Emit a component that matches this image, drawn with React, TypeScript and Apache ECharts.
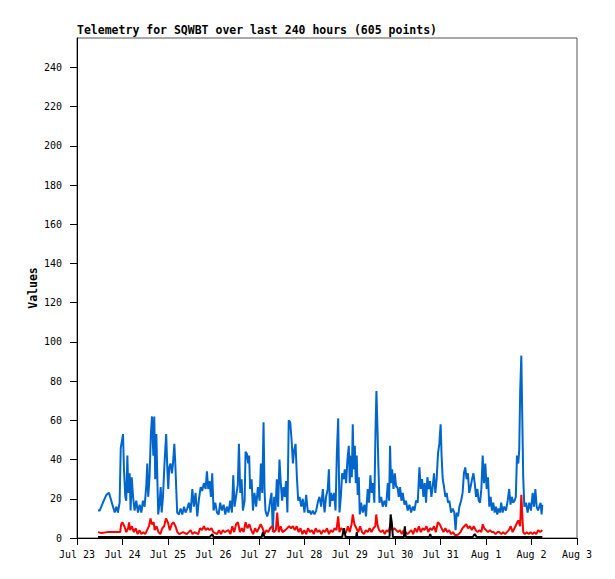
import React, { useEffect, useRef } from "react";
import * as echarts from "echarts";

const chartTitle = "Telemetry for SQWBT over last 240 hours (605 points)";
const yAxisName = "Values";
// x values are hours since Jul 23 00:00
const xTickLabels = ["Jul 23", "Jul 24", "Jul 25", "Jul 26", "Jul 27", "Jul 28", "Jul 29", "Jul 30", "Jul 31", "Aug 1", "Aug 2", "Aug 3"];
const yTickValues = [0, 20, 40, 60, 80, 100, 120, 140, 160, 180, 200, 220, 240];

const blueSeries: [number, number][] = [
  [11.1,14],[12.0,14],[13.7,18],[15.5,22],[16.9,23],[18.1,19],[19.0,16],[19.9,13],[20.8,16],[21.6,13],[22.5,18],[23.1,46],[23.8,50],[24.3,53],[24.8,35],[25.5,21],[26.0,19],[26.6,42],[27.1,23],[27.8,33],[28.3,14],[28.9,31],[29.6,21],[30.4,14],[31.3,19],[32.2,13],[33.1,17],[34.0,13],[34.8,19],[35.7,16],[36.6,27],[37.1,38],[37.6,21],[38.3,31],[39.0,53],[39.6,62],[40.3,42],[40.8,62],[41.3,30],[41.9,53],[42.4,31],[42.9,12],[43.6,18],[44.2,26],[44.7,13],[45.4,21],[46.1,36],[46.6,45],[47.1,53],[47.7,35],[48.2,25],[48.7,36],[49.4,38],[50.1,33],[50.6,37],[51.4,48],[51.9,38],[52.4,25],[52.9,13],[53.8,12],[54.7,15],[55.6,12],[56.5,16],[57.3,13],[58.2,15],[59.1,18],[60.0,13],[60.9,25],[61.7,16],[62.6,23],[63.5,11],[64.4,20],[65.3,26],[66.1,24],[67.0,28],[67.9,25],[68.6,34],[69.3,25],[70.0,29],[70.7,21],[71.4,33],[72.1,14],[73.0,18],[73.9,13],[74.8,12],[75.6,18],[76.5,14],[77.4,17],[78.3,12],[79.1,16],[80.0,13],[80.9,19],[81.8,13],[82.5,32],[83.2,16],[84.1,22],[84.9,27],[85.5,48],[86.2,23],[86.9,30],[87.6,14],[88.5,19],[89.0,44],[89.7,43],[90.4,38],[90.9,42],[91.4,25],[92.2,30],[92.9,14],[93.7,23],[94.6,16],[95.5,26],[96.4,19],[97.1,38],[97.8,23],[98.5,59],[99.0,25],[99.5,14],[100.4,11],[101.3,14],[102.0,19],[102.7,23],[103.4,3],[104.1,21],[104.8,14],[105.5,30],[106.2,16],[106.9,40],[107.6,28],[108.3,19],[109.0,26],[109.7,21],[110.4,29],[111.1,13],[111.8,60],[112.6,59],[113.3,50],[114.0,38],[114.7,45],[115.4,48],[116.1,31],[116.8,19],[117.5,21],[118.4,16],[119.2,20],[120.1,13],[121.0,22],[121.9,13],[122.8,14],[123.6,12],[124.5,14],[125.4,12],[126.3,14],[127.1,18],
  [128.0,21],[128.9,16],[129.8,25],[130.7,13],[131.5,21],[132.4,25],[133.0,35],[133.5,16],[134.2,23],[134.9,19],[135.8,23],[136.5,14],[137.2,43],[137.9,61],[138.6,13],[139.3,21],[140.0,33],[140.7,30],[141.4,35],[142.1,28],[142.8,40],[143.5,47],[144.0,28],[144.6,42],[145.1,31],[145.6,58],[146.1,35],[146.7,47],[147.2,28],[147.7,42],[148.2,22],[148.8,31],[149.3,12],[150.0,18],[150.9,13],[151.8,17],[152.6,11],[153.5,25],[154.2,18],[154.9,32],[155.6,23],[156.3,28],[157.0,18],[157.6,54],[158.1,75],[158.6,58],[159.1,38],[159.7,18],[160.6,21],[161.4,16],[162.3,19],[163.2,16],[164.1,28],[164.8,19],[165.3,47],[165.8,28],[166.4,35],[167.1,25],[167.8,33],[168.5,26],[169.2,26],[169.9,21],[170.6,26],[171.3,19],[172.0,23],[172.9,17],[173.7,19],[174.6,14],[175.5,17],[176.4,13],[177.3,16],[178.2,14],[179.0,19],[179.9,18],[180.8,36],[181.5,25],[182.2,30],[182.9,21],[183.6,28],[184.3,18],[185.0,31],[185.7,25],[186.4,29],[187.1,21],[187.8,26],[188.5,33],[189.2,23],[189.9,30],[190.6,43],[191.3,48],[192.0,58],[192.5,42],[193.1,30],[193.8,26],[194.5,21],[195.2,23],[195.9,18],[196.6,19],[197.5,13],[198.4,15],[199.2,13],[199.9,4],[200.5,13],[201.2,11],[201.9,16],[202.8,19],[203.6,23],[204.3,33],[205.0,36],[205.7,30],[206.4,33],[207.1,23],[207.8,26],[208.6,30],[209.3,33],[210.0,28],[210.7,21],[211.4,25],[212.1,19],[212.8,18],[213.5,25],[214.2,42],[214.9,28],[215.6,38],[216.3,25],[217.0,31],[217.7,16],[218.4,21],[219.1,14],[219.8,18],[220.5,13],[221.2,16],[221.9,12],[222.6,15],[223.3,13],[224.0,18],[224.7,13],[225.6,16],[226.5,14],[227.4,19],[228.2,25],[228.9,17],[229.6,21],[230.3,18],[231.0,19],[231.7,21],[232.3,42],[233.0,38],[233.5,45],[234.0,75],[234.6,93],[235.1,62],[235.6,31],[236.2,16],[237.1,18],[237.9,13],[238.8,18],[239.7,14],[240.6,23],[241.3,16],[242.0,25],[242.7,16],[243.4,14],[244.1,16],[244.8,18],[245.3,12],[245.7,17]
];

const redSeries: [number, number][] = [
  [11.1,3],[13,2.5],[16,3],[19,3],[22,3],[22.8,3],[23.3,7],[24,8],[25,6],[26,3],[27,5],[27.5,8],[28,4],[29,6],[30,3],[31,5],[32,2],[33,4],[34,2],[35,3],[36,2],[37,4],[38,6],[38.8,10],[39.5,7],[40.5,8],[41,4],[42,6],[43,3],[44,2],[45,5],[46,6],[47,10],[48,8],[49,4],[50,7],[51,8],[52,6],[53,3],[54,2],[56,3],[58,2],[60,4],[61,2],[62,3],[64,2],[65,5],[66,4],[67,6],[68,4],[69,5],[70,4],[71,5],[72,3],[74,2],[75,4],[76,2],[77,4],[78,3],[80,4],[81,2],[82,6],[83,3],[84,7],[85,8],[86,3],[87,5],[88,3],[89,8],[90,5],[91,7],[92,4],[93,2],[94,5],[95,3],[96,5],[97,7],[98,5],[99,2],[100,4],[101,3],[102,5],[103,6],[104,3],[105,4],[105.7,13],[106.5,3],[107.5,6],[108.5,3],[110,4],[112,6],[113,5],[114,6],[115,4],[116,6],[117,3],[118,5],[119,2],[120,4],[121,2],[122,5],[123,3],[124,4],[125,2],[126,5],[127,3],[128,4],
  [129,2],[130,4],[131,3],[132,5],[133,2],[134,4],[135,3],[136,5],[137,4],[137.9,11],[138.6,3],[139.5,5],[140.5,4],[141.5,2],[142.5,4],[143,6],[144,3],[145,7],[145.6,12],[146.5,7],[147.5,5],[148.5,3],[149.5,6],[150.5,3],[151.5,2],[152.5,4],[153.5,3],[154.5,5],[155.5,3],[156.5,5],[157.5,6],[158,12],[158.6,7],[159.5,4],[160.5,3],[161.5,4],[162.5,2],[163.5,4],[164.5,3],[165.5,7],[166.5,4],[167.5,5],[168.5,4],[169.5,3],[170.5,4],[171.5,2],[172.5,4],[173.5,3],[174.5,2],[175.5,3],[176.5,4],[177.5,2],[178.5,5],[179.5,3],[180.5,6],[181.5,3],[182.5,5],[183.5,4],[184.5,6],[185.5,3],[186.5,5],[187.5,4],[188.5,6],[189.5,3],[190.5,8],[191.5,7],[192.5,5],[193.5,3],[194.5,5],[195.5,3],[196.5,4],[197.5,2],[198.5,3],[199.5,1.5],[200.5,1.5],[201.5,2],[202.5,3],[203.5,5],[204.5,6],[205.5,7],[206.5,5],[207.5,6],[208.5,4],[209.5,6],[210.5,4],[211.5,3],[212.5,4],[213.5,3],[214.2,7],[215,5],[216,4],[217,3],[218,4],[219,3],[220,3],[221,2],[222,3],[223,3],[224,2],[225,3],[226,2],[227,3],[228,4],[229,6],[230,3],[231,5],[232,7],[233,9],[234,6],[234.6,22],[235.1,12],[235.6,3],[236.5,2],[237.5,3],[238.5,2],[239.5,3],[240.5,2],[241.5,3],[242.5,2],[243.5,4],[244.5,3],[245.7,4]
];

const blackSeries: [number, number][] = [
  [11.1,0.5],[70,0.5],[71.5,2],[72,0.5],[97.5,0.5],[98.2,3],[99,0.5],[140,0.5],[141,5],[141.8,0.5],[147.4,0.5],[147.7,3],[148,0.5],[165,0.5],[165.6,12],[166.2,8],[166.8,0.5],[172.6,0.5],[173.1,6],[173.6,0.5],[186,0.5],[186.5,2],[187,0.5],[209,0.5],[210,2],[211,0.5],[245.7,0.5]
];

const mono = "DejaVu Sans Mono";

export default function App() {
  const ref = useRef<HTMLDivElement>(null);
  useEffect(() => {
    const chart = echarts.init(ref.current!, null, { renderer: "svg" });
    const line = (data: [number, number][], color: string) => ({
      type: "line",
      data,
      showSymbol: false,
      symbol: "none",
      lineStyle: { color, width: 2 },
      itemStyle: { color },
    });
    chart.setOption({
      animation: false,
      backgroundColor: "#fff",
      title: {
        text: chartTitle,
        left: 77,
        top: 24,
        padding: 0,
        textStyle: { fontFamily: mono, fontWeight: "bold", fontSize: 11.5, color: "#000" },
      },
      grid: { left: 77, top: 38, width: 500, height: 500, show: true, borderColor: "#555", borderWidth: 1, backgroundColor: "transparent" },
      xAxis: {
        type: "value",
        min: 0,
        max: 264,
        interval: 24,
        axisLine: { onZero: false, lineStyle: { color: "#000", width: 1 } },
        axisTick: { length: 7, lineStyle: { color: "#000" } },
        axisLabel: {
          formatter: (v: number) => xTickLabels[Math.round(v / 24)] ?? "",
          fontFamily: mono,
          fontSize: 10,
          color: "#000",
          margin: 11,
        },
        splitLine: { show: false },
      },
      yAxis: {
        type: "value",
        min: 0,
        max: 255,
        name: yAxisName,
        nameLocation: "middle",
        nameRotate: 90,
        nameGap: 38,
        nameMoveOverlap: false,
        nameTextStyle: { fontFamily: mono, fontWeight: "bold", fontSize: 11.5, color: "#000" },
        axisLine: { show: true, onZero: false, lineStyle: { color: "#000", width: 1 } },
        axisTick: { show: true, length: 7, customValues: yTickValues, lineStyle: { color: "#000" } },
        axisLabel: { customValues: yTickValues, fontFamily: mono, fontSize: 10, color: "#000", margin: 15 },
        splitLine: { show: false },
      },
      series: [line(blueSeries, "#0066cc"), line(redSeries, "#ff0000"), line(blackSeries, "#000000")],
    });
    return () => chart.dispose();
  }, []);
  return <div ref={ref} style={{ position: "fixed", left: 0, top: 0, width: 615, height: 579, background: "#fff" }} />;
}
